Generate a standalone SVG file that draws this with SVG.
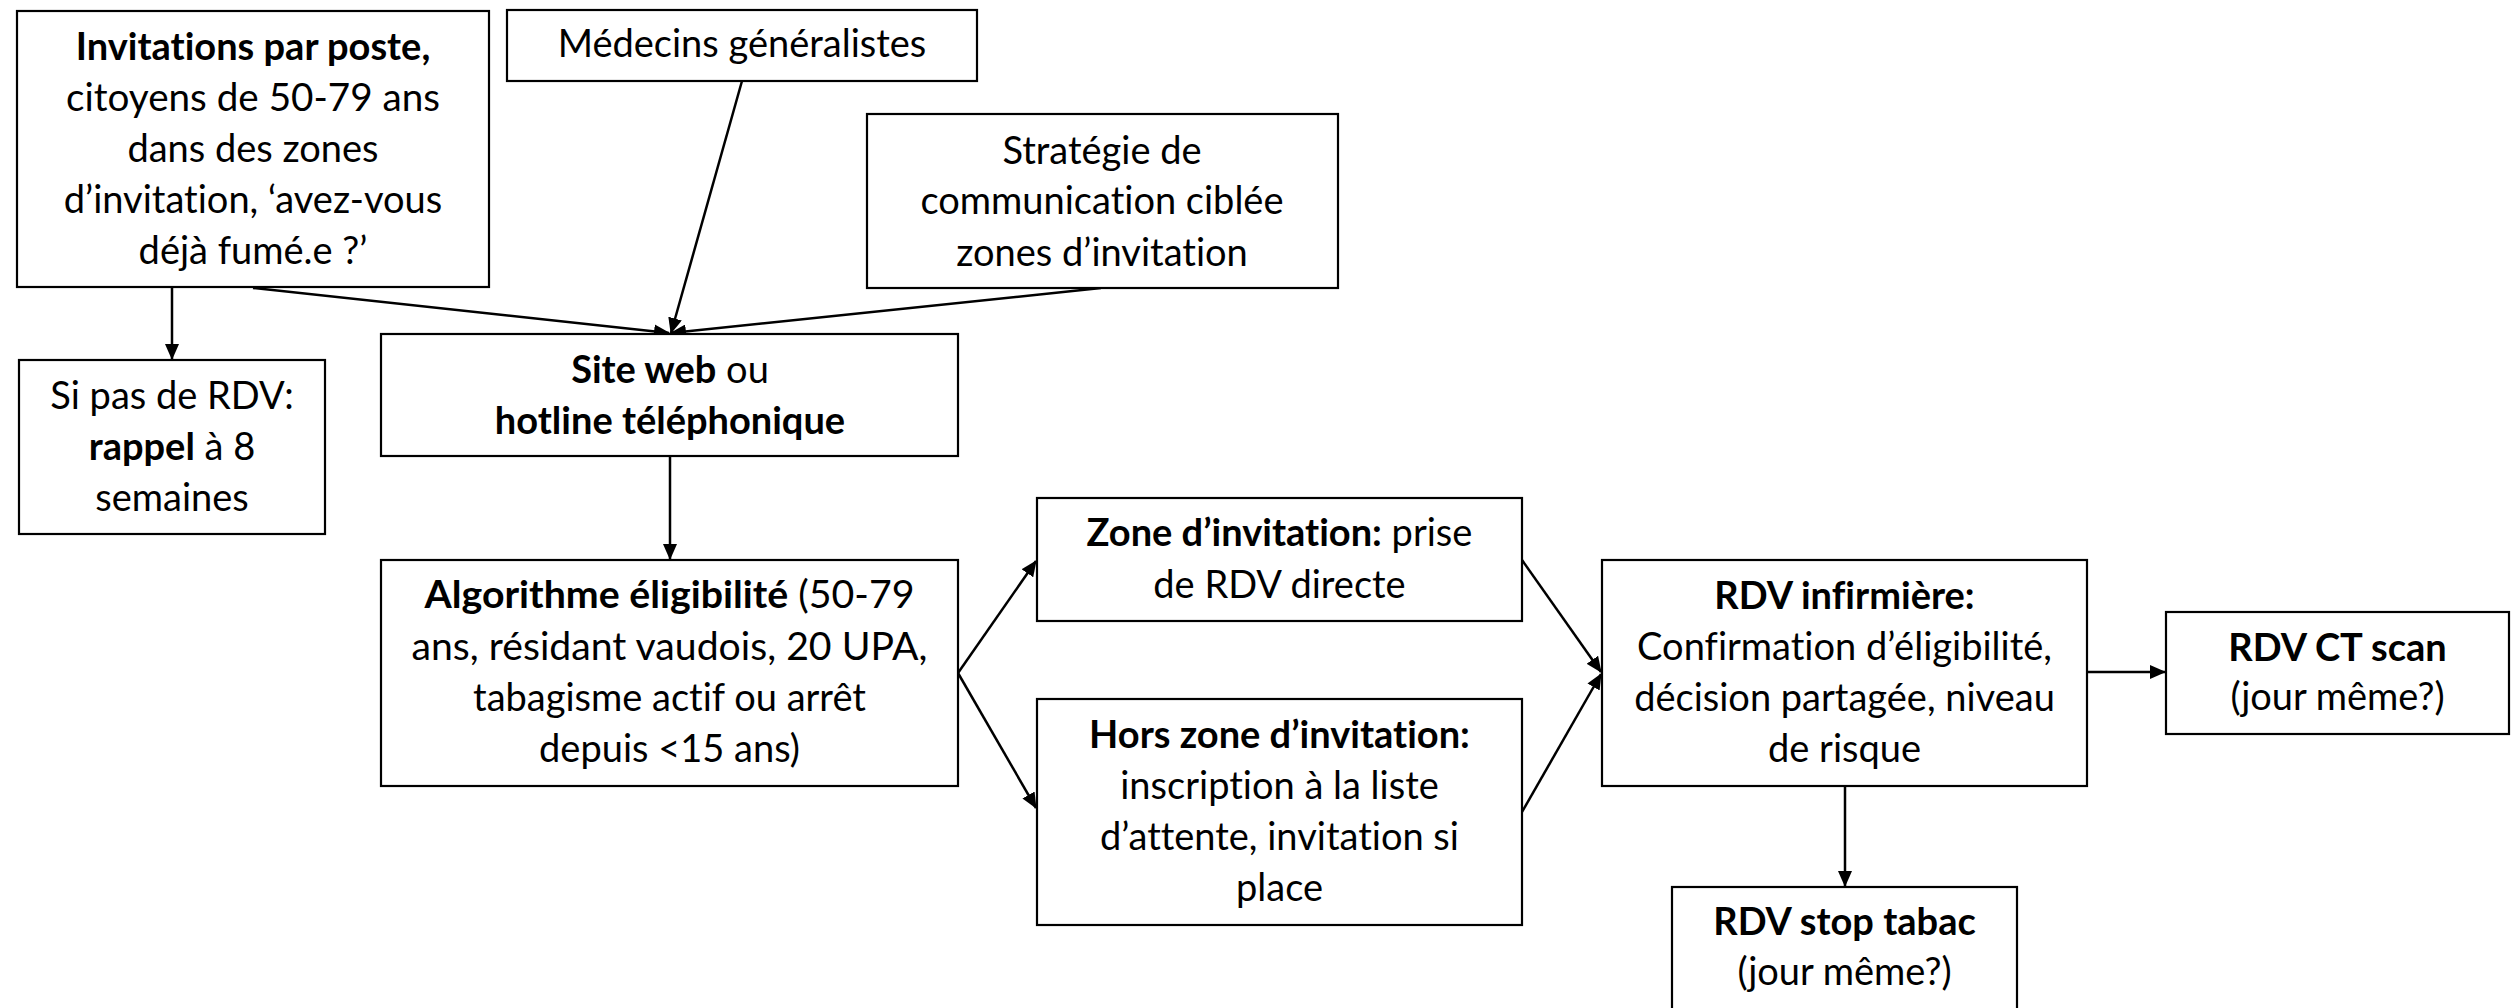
<svg xmlns="http://www.w3.org/2000/svg" width="2511" height="1008" viewBox="0 0 2511 1008">
<defs>
<style>
.box{fill:#fff;stroke:#000;stroke-width:2.2}
.t{font-family:Lato,"Liberation Sans",sans-serif;font-size:38px;text-anchor:middle;fill:#000;font-variant-ligatures:none}
.b{font-weight:bold}
.c{fill:none;stroke:#000;stroke-width:2.5}
</style>
<marker id="ah" markerUnits="userSpaceOnUse" markerWidth="16" markerHeight="14" refX="15" refY="7" orient="auto">
<path d="M0,0 L16,7 L0,14 z" fill="#000"/>
</marker>
</defs>
<rect width="2511" height="1008" fill="#fff"/>
<g id="connectors">
<path class="c" d="M172,287 L172,359" marker-end="url(#ah)"/>
<path class="c" d="M253,288 L669,333" marker-end="url(#ah)"/>
<path class="c" d="M742,81 L671,333" marker-end="url(#ah)"/>
<path class="c" d="M1101,288 L671,333" marker-end="url(#ah)"/>
<path class="c" d="M670,456 L670,559" marker-end="url(#ah)"/>
<path class="c" d="M958,673 L1036,561" marker-end="url(#ah)"/>
<path class="c" d="M958,673 L1036,808" marker-end="url(#ah)"/>
<path class="c" d="M1522,560 L1601,672" marker-end="url(#ah)"/>
<path class="c" d="M1522,812 L1601,674" marker-end="url(#ah)"/>
<path class="c" d="M2087,672 L2165,672" marker-end="url(#ah)"/>
<path class="c" d="M1845,786 L1845,886" marker-end="url(#ah)"/>
</g>
<g id="invitations">
<rect class="box" x="17" y="11" width="472" height="276"/>
<text class="t" x="253" y="60"><tspan class="b">Invitations par poste,</tspan></text>
<text class="t" x="253" y="111" textLength="374" lengthAdjust="spacingAndGlyphs">citoyens de 50-79 ans</text>
<text class="t" x="253" y="162">dans des zones</text>
<text class="t" x="253" y="213">d’invitation, ‘avez-vous</text>
<text class="t" x="253" y="264">déjà fumé.e ?’</text>
</g>
<g id="medecins">
<rect class="box" x="507" y="10" width="470" height="71"/>
<text class="t" x="742" y="57">Médecins généralistes</text>
</g>
<g id="strategie">
<rect class="box" x="867" y="114" width="471" height="174"/>
<text class="t" x="1102" y="164">Stratégie de</text>
<text class="t" x="1102" y="214">communication ciblée</text>
<text class="t" x="1102" y="266">zones d’invitation</text>
</g>
<g id="site">
<rect class="box" x="381" y="334" width="577" height="122"/>
<text class="t" x="670" y="383"><tspan class="b">Site web</tspan> ou</text>
<text class="t" x="670" y="434"><tspan class="b">hotline téléphonique</tspan></text>
</g>
<g id="rappel">
<rect class="box" x="19" y="360" width="306" height="174"/>
<text class="t" x="172" y="409">Si pas de RDV:</text>
<text class="t" x="172" y="460"><tspan class="b">rappel</tspan> à 8</text>
<text class="t" x="172" y="511">semaines</text>
</g>
<g id="algorithme">
<rect class="box" x="381" y="560" width="577" height="226"/>
<text class="t" x="669.5" y="608" textLength="490" lengthAdjust="spacingAndGlyphs"><tspan class="b">Algorithme éligibilité</tspan> (50-79</text>
<text class="t" x="669.5" y="660" textLength="516" lengthAdjust="spacingAndGlyphs">ans, résidant vaudois, 20 UPA,</text>
<text class="t" x="669.5" y="711">tabagisme actif ou arrêt</text>
<text class="t" x="669.5" y="762">depuis &lt;15 ans)</text>
</g>
<g id="zone">
<rect class="box" x="1037" y="498" width="485" height="123"/>
<text class="t" x="1279.5" y="546"><tspan class="b">Zone d’invitation:</tspan> prise</text>
<text class="t" x="1279.5" y="598">de RDV directe</text>
</g>
<g id="hors-zone">
<rect class="box" x="1037" y="699" width="485" height="226"/>
<text class="t" x="1279.5" y="748"><tspan class="b">Hors zone d’invitation:</tspan></text>
<text class="t" x="1279.5" y="799">inscription à la liste</text>
<text class="t" x="1279.5" y="850">d’attente, invitation si</text>
<text class="t" x="1279.5" y="901">place</text>
</g>
<g id="infirmiere">
<rect class="box" x="1602" y="560" width="485" height="226"/>
<text class="t" x="1844.5" y="609"><tspan class="b">RDV infirmière:</tspan></text>
<text class="t" x="1844.5" y="660">Confirmation d’éligibilité,</text>
<text class="t" x="1844.5" y="711">décision partagée, niveau</text>
<text class="t" x="1844.5" y="762">de risque</text>
</g>
<g id="ct-scan">
<rect class="box" x="2166" y="612" width="343" height="122"/>
<text class="t" x="2337.5" y="661"><tspan class="b">RDV CT scan</tspan></text>
<text class="t" x="2337.5" y="710">(jour même?)</text>
</g>
<g id="stop-tabac">
<rect class="box" x="1672" y="887" width="345" height="140"/>
<text class="t" x="1844.5" y="935"><tspan class="b">RDV stop tabac</tspan></text>
<text class="t" x="1844.5" y="985">(jour même?)</text>
</g>
</svg>
